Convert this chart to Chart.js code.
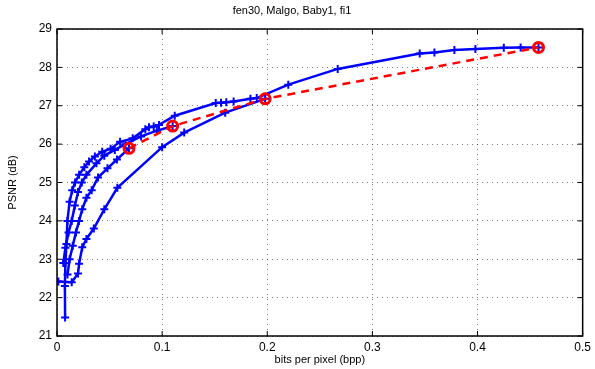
<!DOCTYPE html>
<html>
<head>
<meta charset="utf-8">
<script src="https://cdn.jsdelivr.net/npm/chart.js@4"></script>
<style>
  html, body { margin: 0; padding: 0; background: #fff; }
  #wrap { width: 595px; height: 369px; }
</style>
</head>
<body>
<div id="wrap"><canvas id="rdChart" width="595" height="369"></canvas></div>
<script>
// ----------- Data (bpp, PSNR) -----------
const titleText = "fen30, Malgo, Baby1, fi1";
const xTicks = [0, 0.1, 0.2, 0.3, 0.4, 0.5];
const yTicks = [21, 22, 23, 24, 25, 26, 27, 28, 29];

const curveA_bpp  = [0.0077, 0.0075, 0.008, 0.009, 0.0099, 0.012, 0.0145, 0.0172, 0.021, 0.026, 0.0305, 0.036, 0.043, 0.051, 0.060, 0.072, 0.084, 0.0875, 0.092, 0.097, 0.112, 0.151, 0.156, 0.161, 0.168, 0.184, 0.190, 0.220, 0.267, 0.345, 0.359, 0.378, 0.398, 0.425, 0.441, 0.458];
const curveA_psnr = [21.48, 22.3, 22.9, 23.4, 24.0, 24.5, 24.8, 25.0, 25.2, 25.4, 25.55, 25.68, 25.8, 25.88, 26.06, 26.15, 26.39, 26.44, 26.46, 26.5, 26.74, 27.07, 27.08, 27.09, 27.11, 27.18, 27.2, 27.55, 27.96, 28.36, 28.39, 28.45, 28.48, 28.51, 28.52, 28.52];

const curveB_bpp  = [0.006, 0.008, 0.011, 0.014, 0.017, 0.020, 0.0236, 0.028, 0.0375, 0.045, 0.055, 0.065, 0.080, 0.095, 0.110];
const curveB_psnr = [22.9, 23.3, 23.7, 24.0, 24.4, 24.75, 25.0, 25.2, 25.5, 25.7, 25.85, 26.0, 26.2, 26.35, 26.47];

const curveC_bpp  = [0.010, 0.012, 0.015, 0.018, 0.021, 0.024, 0.028, 0.033, 0.039, 0.048, 0.057, 0.0685];
const curveC_psnr = [22.6, 23.0, 23.35, 23.7, 24.0, 24.3, 24.6, 24.8, 25.13, 25.37, 25.6, 25.89];

const curveD_bpp  = [0.0013, 0.014, 0.020, 0.021, 0.024, 0.028, 0.035, 0.045, 0.0574, 0.100, 0.121, 0.160, 0.198];
const curveD_psnr = [22.42, 22.4, 22.63, 22.88, 23.31, 23.53, 23.8, 24.3, 24.86, 25.92, 26.3, 26.82, 27.18];

const best_bpp  = [0.0685, 0.110, 0.198, 0.458];
const best_psnr = [25.89, 26.47, 27.18, 28.52];

// ----------- Helpers -----------
function pts(xs, ys) {
    return xs.map((x, i) => ({ x: x, y: ys[i] }));
}

function blueCurve(xs, ys) {
    return {
        data: pts(xs, ys),
        borderColor: "#0000ff",
        borderWidth: 2.5,
        pointStyle: "cross",
        pointRadius: 4,
        pointBorderWidth: 2,
        pointBorderColor: "#0000ff",
        pointHoverRadius: 4,
        tension: 0,
        order: 2
    };
}

// draw a MATLAB-like box around the plot area
const boxPlugin = {
    id: "box",
    afterDraw(chart) {
        const a = chart.chartArea, ctx = chart.ctx;
        ctx.save();
        ctx.strokeStyle = "#000";
        ctx.lineWidth = 1.5;
        ctx.strokeRect(a.left, a.top, a.right - a.left, a.bottom - a.top);
        // inward tick marks
        ctx.lineWidth = 1;
        const xs = chart.scales.x, ys = chart.scales.y;
        xTicks.forEach(v => {
            const p = xs.getPixelForValue(v);
            ctx.beginPath();
            ctx.moveTo(p, a.bottom); ctx.lineTo(p, a.bottom - 5);
            ctx.moveTo(p, a.top); ctx.lineTo(p, a.top + 5);
            ctx.stroke();
        });
        yTicks.forEach(v => {
            const p = ys.getPixelForValue(v);
            ctx.beginPath();
            ctx.moveTo(a.left, p); ctx.lineTo(a.left + 5, p);
            ctx.moveTo(a.right, p); ctx.lineTo(a.right - 5, p);
            ctx.stroke();
        });
        ctx.restore();
    }
};

// ----------- Chart -----------
const font = "'Liberation Sans', Arial, Helvetica, sans-serif";
Chart.defaults.font.family = font;
Chart.defaults.color = "#000";

const gridStyle = {
    color: "rgba(0,0,0,0.5)",
    lineWidth: 1,
    drawTicks: false
};

new Chart(document.getElementById("rdChart"), {
    type: "line",
    data: {
        datasets: [
            {
                data: pts(best_bpp, best_psnr),
                borderColor: "#ff0000",
                borderWidth: 2.5,
                borderDash: [8, 6],
                pointStyle: "circle",
                pointRadius: 5,
                pointBorderWidth: 3,
                pointBorderColor: "#ff0000",
                pointBackgroundColor: "rgba(0,0,0,0)",
                tension: 0,
                order: 1
            },
            blueCurve(curveA_bpp, curveA_psnr),
            blueCurve(curveB_bpp, curveB_psnr),
            blueCurve(curveC_bpp, curveC_psnr),
            blueCurve(curveD_bpp, curveD_psnr)
        ]
    },
    options: {
        responsive: false,
        animation: false,
        layout: { padding: { top: 0, right: 11, left: 0, bottom: 0 } },
        plugins: {
            legend: { display: false },
            tooltip: { enabled: false },
            title: {
                display: true,
                text: titleText,
                font: { size: 11, weight: "normal", family: font },
                color: "#000",
                padding: { top: 4, bottom: 11.8 }
            }
        },
        scales: {
            x: {
                type: "linear",
                min: 0,
                max: 0.5,
                afterBuildTicks: s => { s.ticks = xTicks.map(v => ({ value: v })); },
                afterFit: s => { s.height = 33; },
                grid: gridStyle,
                border: { display: false, dash: [1, 4] },
                ticks: {
                    padding: 4,
                    font: { size: 12 },
                    maxRotation: 0,
                    callback: v => String(v)
                },
                title: {
                    display: true,
                    text: "bits per pixel (bpp)",
                    font: { size: 11 },
                    padding: { top: 0, bottom: 2 }
                }
            },
            y: {
                type: "linear",
                min: 21,
                max: 29,
                afterBuildTicks: s => { s.ticks = yTicks.map(v => ({ value: v })); },
                afterFit: s => { s.width = 57; },
                grid: gridStyle,
                border: { display: false, dash: [1, 4] },
                ticks: {
                    padding: 5,
                    font: { size: 12 }
                },
                title: {
                    display: true,
                    text: "PSNR (dB)",
                    font: { size: 11 },
                    padding: { top: 6, bottom: 0 }
                }
            }
        }
    },
    plugins: [boxPlugin]
});
</script>
</body>
</html>
